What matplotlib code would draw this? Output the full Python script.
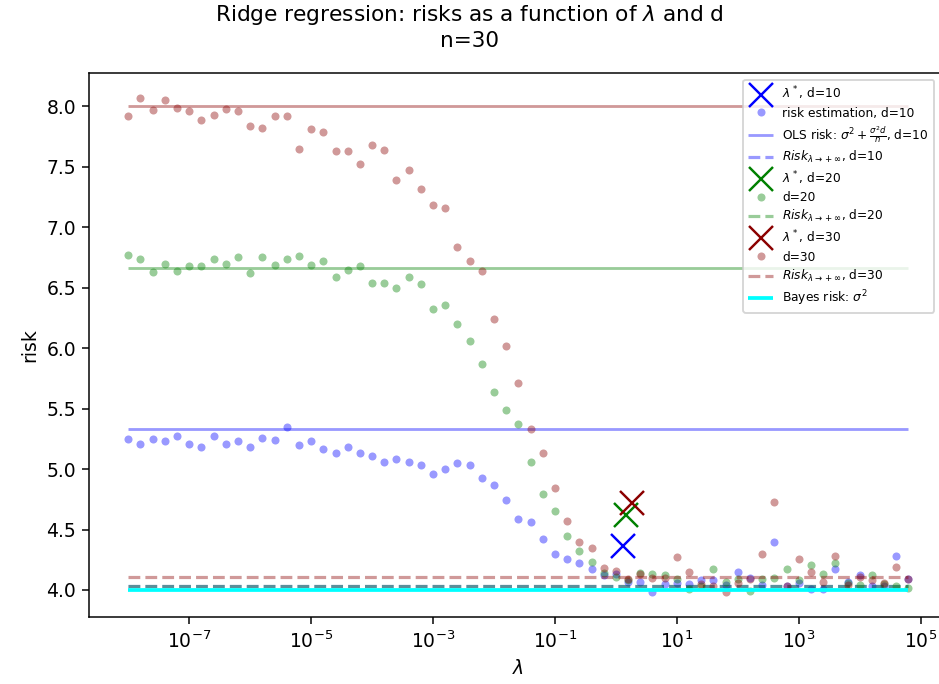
import numpy as np
import matplotlib
matplotlib.use("Agg")
import matplotlib.pyplot as plt

# regularisation grid (0.2 decade steps)
lambdas = np.logspace(-8, 4.8, 65)

sigma2 = 4.0
n = 30

# estimated risks
risk_d10 = [5.25, 5.21, 5.25, 5.23, 5.27, 5.21, 5.18, 5.27, 5.21, 5.23,
            5.18, 5.26, 5.24, 5.35, 5.20, 5.23, 5.17, 5.13, 5.18, 5.13,
            5.11, 5.06, 5.08, 5.06, 5.03, 4.96, 5.00, 5.05, 5.03, 4.93,
            4.87, 4.74, 4.59, 4.56, 4.42, 4.30, 4.26, 4.22, 4.17, 4.12,
            4.13, 4.07, 4.07, 3.98, 4.05, 4.06, 4.05, 4.08, 4.08, 4.04,
            4.15, 4.10, 4.04, 4.40, 4.03, 4.06, 4.01, 4.01, 4.17, 4.07,
            4.12, 4.03, 4.03, 4.28, 4.09]
risk_d20 = [6.77, 6.74, 6.63, 6.70, 6.64, 6.68, 6.68, 6.74, 6.70, 6.75,
            6.62, 6.75, 6.69, 6.74, 6.76, 6.69, 6.72, 6.59, 6.65, 6.68,
            6.54, 6.54, 6.50, 6.59, 6.53, 6.32, 6.36, 6.20, 6.06, 5.87,
            5.64, 5.49, 5.37, 5.06, 4.79, 4.65, 4.45, 4.32, 4.23, 4.14,
            4.11, 4.08, 4.14, 4.13, 4.12, 4.09, 4.01, 4.03, 4.17, 4.07,
            4.09, 3.99, 4.09, 4.10, 4.17, 4.08, 4.21, 4.13, 4.22, 4.06,
            4.04, 4.12, 4.05, 4.03, 4.02]
risk_d30 = [7.92, 8.07, 7.97, 8.05, 7.99, 7.96, 7.89, 7.93, 7.98, 7.96,
            7.84, 7.82, 7.92, 7.92, 7.65, 7.81, 7.79, 7.63, 7.63, 7.52,
            7.68, 7.64, 7.39, 7.47, 7.32, 7.18, 7.16, 6.84, 6.72, 6.64,
            6.24, 6.02, 5.71, 5.33, 5.13, 4.84, 4.57, 4.40, 4.35, 4.18,
            4.16, 4.09, 4.13, 4.10, 4.10, 4.27, 4.15, 4.05, 4.03, 3.98,
            4.06, 4.09, 4.30, 4.73, 4.03, 4.26, 4.15, 4.07, 4.28, 4.04,
            4.11, 4.08, 4.06, 4.19, 4.09]

dims = [10, 20, 30]
colors = ["blue", "green", "darkred"]
risks = [risk_d10, risk_d20, risk_d30]
lambda_star = [1.33, 1.45, 1.83]
risk_star = [4.36, 4.62, 4.72]
risk_inf = [4.03, 4.033, 4.105]

fig = plt.figure(figsize=(939 / 135, 684 / 135), dpi=135)
ax = fig.add_axes([89.3 / 939, 66.7 / 684, 858.2 / 939, 544 / 684])

for d, c, r, ls, rs, ri in zip(dims, colors, risks, lambda_star, risk_star, risk_inf):
    ax.plot(ls, rs, "x", color=c, markersize=13, markeredgewidth=1.3,
            label=f"$\\lambda^*$, d={d}")
    lab = f"risk estimation, d={d}" if d == 10 else f"d={d}"
    ax.plot(lambdas, r, "o", color=c, alpha=0.4, markersize=4.3,
            markeredgewidth=0, label=lab)
    ols = sigma2 + sigma2 * d / n
    ax.hlines(ols, lambdas[0], lambdas[-1], color=c, alpha=0.4, linewidth=1.5,
              label=("OLS risk: $\\sigma^2 + \\frac{\\sigma^2 d}{n}$, d=10" if d == 10 else None))
    ax.hlines(ri, lambdas[0], lambdas[-1], color=c, alpha=0.4, linewidth=1.7,
              linestyles="dashed", label=f"$Risk_{{\\lambda \\to +\\infty}}$, d={d}")

ax.hlines(sigma2, lambdas[0], lambdas[-1], color="cyan", linewidth=2,
          label="Bayes risk: $\\sigma^2$")

ax.set_xscale("log")
ax.set_xticks([1e-7, 1e-5, 1e-3, 1e-1, 1e1, 1e3, 1e5])
ax.minorticks_off()
ax.set_xlim(10 ** -8.64, 10 ** 5.44)
ax.set_ylim(3.774, 8.273)
ax.set_xlabel("$\\lambda$")
ax.set_ylabel("risk")

fig.suptitle("Ridge regression: risks as a function of $\\lambda$ and d\nn=30",
             x=0.5, y=0.995, va="top", fontsize=11.5)

ax.legend(loc="upper right", bbox_to_anchor=(934 / 939, 604 / 684),
          bbox_transform=fig.transFigure, borderaxespad=0, fontsize=6.5,
          labelspacing=0.35)

plt.savefig("out.png", dpi=135)
